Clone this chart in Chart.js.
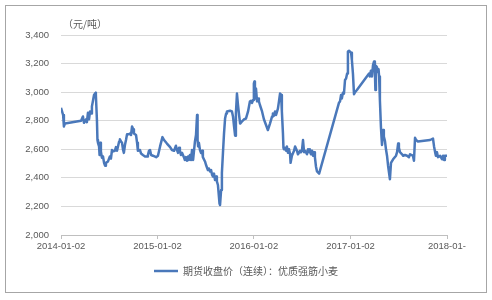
<!DOCTYPE html>
<html>
<head>
<meta charset="utf-8">
<script src="https://cdn.jsdelivr.net/npm/chart.js@4/dist/chart.umd.min.js"></script>
<style>
  html, body { margin: 0; padding: 0; background: #fff; }
  #frame { position: absolute; left: 5px; top: 5px; width: 480px; height: 286px; border: 1px solid #a6a6a6; }
  #c { display: block; }
</style>
</head>
<body>
<div id="frame"><canvas id="c" width="480" height="286"></canvas></div>
<script>
// Day offsets from 2014-01-02
const days = [0,4,8,11,15,76,83,87,95,98,102,106,110,114,117,121,125,131,132,136,138,140,144,146,148,151,155,159,163,167,170,178,185,189,193,197,204,208,212,220,223,227,231,235,238,242,246,250,257,261,265,269,273,276,284,288,291,299,303,310,318,326,329,333,337,341,348,360,367,375,384,390,401,413,420,428,435,439,443,447,450,454,458,466,469,473,477,481,484,488,492,496,500,507,511,515,517,519,522,526,530,534,537,545,549,556,560,564,568,572,575,579,583,587,590,594,600,602,606,609,613,617,621,625,628,640,647,651,655,659,662,666,670,674,678,685,693,700,708,715,719,723,727,730,732,734,738,742,746,749,753,761,768,776,783,791,799,802,806,810,814,821,825,829,833,836,840,842,844,848,852,855,859,863,867,869,874,882,886,893,897,905,908,912,916,920,924,931,935,939,942,946,950,954,958,961,965,969,977,1052,1056,1060,1063,1067,1071,1075,1079,1083,1086,1090,1098,1101,1105,1109,1113,1120,1166,1169,1173,1177,1181,1185,1188,1190,1192,1196,1200,1202,1204,1207,1211,1213,1215,1219,1222,1226,1230,1234,1238,1245,1249,1257,1268,1272,1276,1279,1283,1291,1295,1302,1310,1317,1321,1332,1336,1340,1344,1351,1397,1408,1412,1416,1419,1423,1427,1435,1442,1446,1450,1453,1461];
// Futures close (continuous): premium strong-gluten wheat, yuan/ton
const prices = [2890,2865,2840,2760,2780,2800,2830,2785,2810,2790,2855,2810,2865,2850,2900,2940,2980,2995,2980,2805,2665,2645,2620,2560,2645,2585,2540,2550,2505,2485,2505,2515,2550,2535,2595,2585,2590,2615,2590,2655,2670,2655,2645,2595,2575,2630,2665,2705,2705,2710,2700,2760,2740,2710,2700,2645,2590,2595,2570,2560,2550,2550,2560,2590,2595,2560,2555,2545,2555,2620,2685,2665,2640,2615,2595,2590,2625,2595,2575,2610,2590,2560,2575,2540,2525,2545,2520,2550,2525,2560,2525,2595,2525,2655,2700,2840,2665,2620,2645,2595,2575,2590,2545,2515,2490,2455,2465,2445,2455,2420,2410,2430,2385,2410,2375,2350,2220,2210,2315,2435,2575,2710,2815,2850,2865,2870,2865,2830,2760,2695,2850,2990,2910,2840,2780,2795,2810,2815,2865,2935,2940,2925,2945,3060,3075,2955,3025,2935,2955,2935,2910,2865,2810,2770,2735,2780,2830,2850,2835,2865,2840,2885,2935,2990,2980,2865,2715,2610,2600,2610,2590,2620,2575,2600,2565,2505,2555,2590,2620,2590,2565,2590,2580,2590,2665,2580,2590,2565,2600,2580,2600,2565,2590,2555,2580,2545,2480,2445,2430,2925,2935,2980,2955,2995,2990,3085,3095,3130,3285,3290,3275,3225,3130,2985,3000,3015,3130,3110,3150,3110,3190,3215,3150,3015,3185,3175,3140,3160,3110,2945,2755,2690,2630,2735,2690,2660,2600,2555,2485,2390,2505,2530,2555,2580,2640,2610,2580,2565,2555,2560,2555,2545,2565,2555,2520,2680,2665,2655,2665,2675,2620,2580,2555,2580,2545,2555,2530,2555,2525,2555,2555];
const tickDays = [0,365,730,1096,1461];
const tickLabels = ["2014-01-02","2015-01-02","2016-01-02","2017-01-02","2018-01-"];
const seriesName = "期货收盘价（连续）：优质强筋小麦";
const unitLabel = "（元/吨）";

const textColor = '#595959';
const unitPlugin = {
  id: 'unit',
  afterDraw(chart) {
    const ctx = chart.ctx;
    ctx.save();
    ctx.font = '10px "Noto Sans CJK SC", sans-serif';
    ctx.fillStyle = textColor;
    ctx.textBaseline = 'middle';
    ctx.textAlign = 'left';
    ctx.fillText(unitLabel, chart.chartArea.left + 2, chart.chartArea.top - 11);
    ctx.restore();
  }
};

new Chart(document.getElementById('c'), {
  type: 'line',
  data: {
    datasets: [{
      label: seriesName,
      data: days.map((d, i) => ({ x: d, y: prices[i] })),
      borderColor: '#4a78ba',
      backgroundColor: '#4a78ba',
      borderWidth: 2.5,
      pointRadius: 0,
      tension: 0,
      borderJoinStyle: 'round'
    }]
  },
  options: {
    responsive: false,
    animation: false,
    layout: { padding: { left: 0, right: 0, top: 29, bottom: 6 } },
    plugins: {
      tooltip: { enabled: false },
      legend: {
        position: 'bottom',
        labels: {
          usePointStyle: true,
          pointStyle: 'line',
          pointStyleWidth: 24,
          color: textColor,
          font: { family: '"Noto Sans CJK SC", sans-serif', size: 10 },
          padding: 8
        }
      }
    },
    scales: {
      x: {
        type: 'linear',
        min: 0,
        max: 1461,
        afterBuildTicks: (s) => { s.ticks = tickDays.map(v => ({ value: v })); },
        afterFit: (s) => { s.height = 23; },
        grid: { drawOnChartArea: false, drawTicks: true, tickLength: 4, color: '#bfbfbf' },
        border: { display: true, color: '#bfbfbf' },
        ticks: {
          color: textColor,
          font: { family: '"Liberation Sans", Arial, sans-serif', size: 9.5 },
          padding: 2,
          maxRotation: 0,
          autoSkip: false,
          callback: (v) => { const i = tickDays.indexOf(v); return i >= 0 ? tickLabels[i] : ''; }
        }
      },
      y: {
        min: 2000,
        max: 3400,
        afterFit: (s) => { s.width = 55; },
        grid: { color: '#d9d9d9', drawTicks: false },
        border: { display: false },
        ticks: {
          stepSize: 200,
          color: textColor,
          padding: 12,
          font: { family: '"Liberation Sans", Arial, sans-serif', size: 9.5 },
          callback: (v) => v.toLocaleString('en-US')
        }
      },
      yRight: {
        position: 'right',
        min: 2000,
        max: 3400,
        afterFit: (s) => { s.width = 39; },
        grid: { display: false },
        border: { display: false },
        ticks: { display: false }
      }
    }
  },
  plugins: [unitPlugin]
});
</script>
</body>
</html>
